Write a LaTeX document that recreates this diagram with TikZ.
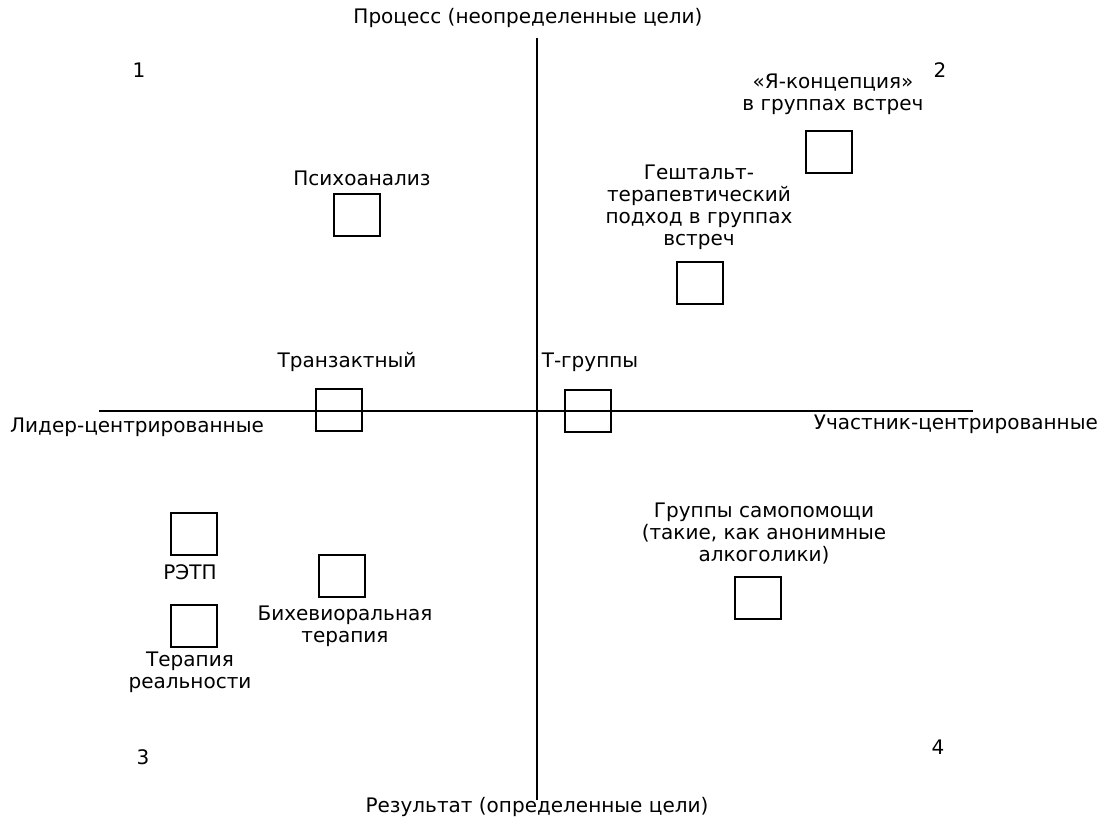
\documentclass[tikz,border=0pt]{standalone}
\usepackage{fontspec}
\setmainfont{DejaVu Sans}
\begin{document}
\begin{tikzpicture}[x=1pt,y=-1pt,
  lbl/.style={font=\fontsize{20}{22}\selectfont, inner sep=0pt, align=center},
  num/.style={font=\fontsize{20}{22}\selectfont, inner sep=0pt},
  axis/.style={line width=2pt},
  mark box/.style={draw, line width=2pt, minimum width=46pt, minimum height=42pt, inner sep=0pt}]
\useasboundingbox (0,0) rectangle (1107,832);
% axes
\coordinate (top) at (537,38);
\coordinate (bot) at (537,800);
\coordinate (lft) at (99,411);
\coordinate (rgt) at (973,411);
\draw[axis] (top) -- (bot);
\draw[axis] (lft) -- (rgt);
% axis labels
\node[lbl] (process) at (528,18) {Процесс (неопределенные цели)};
\node[lbl] (result) at (537,807) {Результат (определенные цели)};
\node[lbl, anchor=west] (leader) at (10,427) {Лидер-центрированные};
\node[lbl, anchor=east] (member) at (1098,424) {Участник-центрированные};
% quadrant numbers
\node[num] (q1) at (139,70) {1};
\node[num] (q2) at (940,70) {2};
\node[num] (q3) at (143,757) {3};
\node[num] (q4) at (938,747) {4};
% approaches
\node[mark box] (psy) at (357,215) {};
\node[lbl] (psyl) at (362,178) {Психоанализ};
\node[mark box] (ya) at (829,152) {};
\node[lbl] (yal) at (833,94) {«Я-концепция»\\в группах встреч};
\node[mark box] (gest) at (700,283) {};
\node[lbl] (gestl) at (699,207) {Гештальт-\\терапевтический\\подход в группах\\встреч};
\node[mark box] (tr) at (339,410) {};
\node[lbl] (trl) at (347,362) {Транзактный};
\node[mark box] (tg) at (588,411) {};
\node[lbl] (tgl) at (590,362) {Т-группы};
\node[mark box] (self) at (758,598) {};
\node[lbl] (selfl) at (764,534) {Группы самопомощи\\(такие, как анонимные\\алкоголики)};
\node[mark box] (ret) at (194,534) {};
\node[lbl] (retl) at (190,572) {РЭТП};
\node[mark box] (real) at (194,626) {};
\node[lbl] (reall) at (190,672) {Терапия\\реальности};
\node[mark box] (beh) at (342,576) {};
\node[lbl] (behl) at (345,626) {Бихевиоральная\\терапия};
\end{tikzpicture}
\end{document}
